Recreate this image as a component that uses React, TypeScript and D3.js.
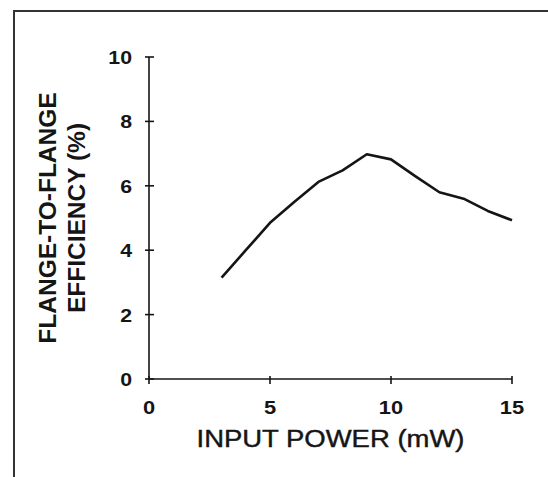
import React from 'react';
import * as d3 from 'd3';

// input power (mW) and flange-to-flange efficiency (%)
const inputPower = [3, 4, 5, 6, 7, 8, 9, 10, 11, 12, 13, 14, 15];
const efficiency = [3.15, 4.0, 4.85, 5.5, 6.12, 6.48, 6.98, 6.82, 6.3, 5.8, 5.6, 5.22, 4.93];
const xTicks = [0, 5, 10, 15];
const yTicks = [0, 2, 4, 6, 8, 10];
const yLabelLines = ['FLANGE-TO-FLANGE', 'EFFICIENCY (%)'];
const xLabel = 'INPUT POWER (mW)';

const W = 548;
const H = 477;
const ink = '#151515';
const font = 'Arial, "Liberation Sans", Helvetica, sans-serif';

const App = () => {
    const x = d3.scaleLinear().domain([0, 15]).range([149, 512]);
    const y = d3.scaleLinear().domain([0, 10]).range([379, 57]);

    const points = inputPower.map((p, i) => [p, efficiency[i]] as [number, number]);
    const line = d3.line<[number, number]>()
        .x(d => x(d[0]))
        .y(d => y(d[1]));

    const x0 = x(0);
    const y0 = y(0);

    return (
        <svg width={W} height={H} style={{ position: 'absolute', left: 0, top: 0, background: '#fff' }}>
            {/* page frame, only top and left edges survive in the scan */}
            <path d={`M14,${H} L14,11 L${W},11`} fill="none" stroke="#333" strokeWidth={2} />

            {/* y axis */}
            <line x1={x0} x2={x0} y1={y(10)} y2={y0} stroke={ink} strokeWidth={1.6} />
            {yTicks.map(t => (
                <g key={'y' + t}>
                    <line x1={x0 - 4} x2={x0 + 5} y1={y(t)} y2={y(t)} stroke={ink} strokeWidth={1.6} />
                    <text transform={`translate(${x0 - 17},${y(t) + 7}) scale(1.12,1)`} textAnchor="end"
                        fontFamily={font} fontWeight="bold" fontSize={19} fill={ink}>{t}</text>
                </g>
            ))}

            {/* x axis */}
            <line x1={x0} x2={x(15)} y1={y0} y2={y0} stroke={ink} strokeWidth={1.6} />
            {xTicks.map(t => (
                <g key={'x' + t}>
                    <line x1={x(t)} x2={x(t)} y1={y0 - 3} y2={y0 + 5} stroke={ink} strokeWidth={1.6} />
                    <text transform={`translate(${x(t)},${414}) scale(1.25,1)`} textAnchor="middle"
                        fontFamily={font} fontWeight="bold" fontSize={17.5} fill={ink}>{t}</text>
                </g>
            ))}

            {/* axis titles */}
            <text x={(x0 + x(15)) / 2} y={447} textAnchor="middle" fontFamily={font} fontSize={23}
                textLength={268} lengthAdjust="spacingAndGlyphs" fill={ink}
                stroke={ink} strokeWidth={0.4}>{xLabel}</text>
            {yLabelLines.map((s, i) => (
                <text key={s} transform={`translate(${56 + i * 29},${218}) rotate(-90)`} textAnchor="middle"
                    fontFamily={font} fontWeight="bold" fontSize={24.5} fill={ink}>{s}</text>
            ))}

            {/* data */}
            <path d={line(points) || ''} fill="none" stroke={ink} strokeWidth={2.6} strokeLinejoin="round" />
        </svg>
    );
};

export default App;
